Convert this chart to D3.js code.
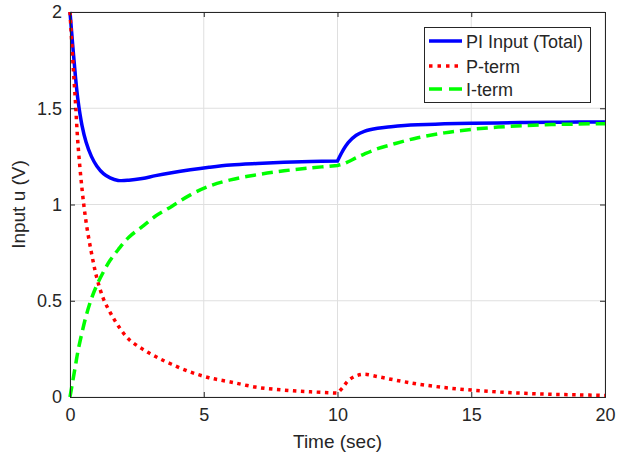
<!DOCTYPE html>
<html>
<head>
<meta charset="utf-8">
<script src="https://cdn.jsdelivr.net/npm/d3@7"></script>
<style>
  html, body { margin: 0; padding: 0; background: #fff; }
  text { font-family: "Liberation Sans", Arial, Helvetica, sans-serif; fill: #262626; }
</style>
</head>
<body>
<svg id="chart" width="617" height="461"></svg>
<script>
// ---- data ----
const time   = [0, 0.1, 0.2, 0.3, 0.45, 0.6, 0.8, 1.0, 1.25, 1.5, 1.8, 2.2, 2.7, 3.2, 3.8, 4.5, 5.2, 6, 7, 8, 9, 10,
                10.2, 10.4, 10.7, 11, 11.5, 12, 12.5, 13, 14, 15, 16, 17, 18, 19, 20];
const total  = [2.0, 1.83, 1.67, 1.54, 1.41, 1.325, 1.25, 1.2, 1.16, 1.138, 1.125, 1.126, 1.135, 1.15, 1.165, 1.18, 1.193, 1.205, 1.213, 1.219, 1.223, 1.226,
                1.28, 1.322, 1.36, 1.38, 1.396, 1.404, 1.41, 1.414, 1.419, 1.422, 1.424, 1.426, 1.427, 1.428, 1.429];
const pTerm  = [2.0, 1.76, 1.54, 1.31, 1.08, 0.91, 0.75, 0.62, 0.51, 0.44, 0.37, 0.30, 0.25, 0.21, 0.17, 0.13, 0.10, 0.078, 0.05, 0.036, 0.027, 0.02,
                0.05, 0.085, 0.11, 0.118, 0.106, 0.092, 0.079, 0.067, 0.049, 0.036, 0.026, 0.019, 0.014, 0.011, 0.008];
const iTerm  = [0, 0.08, 0.16, 0.24, 0.335, 0.42, 0.51, 0.58, 0.65, 0.71, 0.765, 0.83, 0.885, 0.94, 0.99, 1.05, 1.095, 1.128, 1.155, 1.175, 1.19, 1.203,
                1.21, 1.222, 1.243, 1.262, 1.29, 1.31, 1.33, 1.347, 1.372, 1.39, 1.402, 1.41, 1.415, 1.418, 1.42];
const xTicks = [0, 5, 10, 15, 20];
const yTicks = [0, 0.5, 1, 1.5, 2];
const seriesNames = ["PI Input (Total)", "P-term", "I-term"];
const stepTime = 10; // disturbance instant, curves have a corner here

// ---- layout ----
const svg = d3.select("#chart");
const L = 70, R = 605, T = 12, B = 397;
const x = d3.scaleLinear().domain([0, 20]).range([L, R]);
const y = d3.scaleLinear().domain([0, 2]).range([B, T]);
const axisColor = "#262626";
const fs = 18;

// grid
const g = svg.append("g");
g.selectAll("line.gx").data(xTicks).join("line")
  .attr("x1", d => x(d)).attr("x2", d => x(d)).attr("y1", T).attr("y2", B)
  .attr("stroke", "#dfdfdf").attr("stroke-width", 1);
g.selectAll("line.gy").data(yTicks).join("line")
  .attr("y1", d => y(d)).attr("y2", d => y(d)).attr("x1", L).attr("x2", R)
  .attr("stroke", "#dfdfdf").attr("stroke-width", 1);

// series
const seriesData = [total, pTerm, iTerm];
const styles = [
  { color: "#0000ff", dash: null, width: 3.5 },
  { color: "#ff0000", dash: "3.5,4.5", width: 3.5 },
  { color: "#00ff00", dash: "11,6", width: 3.5 }
];
const lineGen = d3.line().curve(d3.curveCatmullRom.alpha(0.5));
seriesData.forEach((vals, k) => {
  const pts = time.map((t, i) => ({ t, p: [x(t), y(vals[i])] }));
  const seg1 = pts.filter(d => d.t <= stepTime).map(d => d.p);
  const seg2 = pts.filter(d => d.t >= stepTime).map(d => d.p);
  const d1 = lineGen(seg1);
  const d2 = lineGen(seg2).replace(/^M[^CL]*/, "");
  svg.append("path").attr("d", d1 + d2).attr("fill", "none")
    .attr("stroke", styles[k].color).attr("stroke-width", styles[k].width)
    .attr("stroke-dasharray", styles[k].dash);
});

// axes (box)
const xAxisB = d3.axisBottom(x).tickValues(xTicks).tickSize(-5).tickPadding(11).tickFormat(d3.format("d"));
const xAxisT = d3.axisTop(x).tickValues(xTicks).tickSize(-5).tickFormat("");
const yAxisL = d3.axisLeft(y).tickValues(yTicks).tickSize(-5).tickPadding(8).tickFormat(d => String(d));
const yAxisR = d3.axisRight(y).tickValues(yTicks).tickSize(-5).tickFormat("");
function styleAxis(sel) {
  sel.select(".domain").attr("stroke", axisColor).attr("stroke-width", 1);
  sel.selectAll(".tick line").attr("stroke", axisColor);
  sel.selectAll(".tick text").attr("font-size", fs).attr("fill", axisColor)
     .style("font-family", '"Liberation Sans", Arial, sans-serif');
}
svg.append("g").attr("transform", `translate(0,${B})`).call(xAxisB).call(styleAxis);
svg.append("g").attr("transform", `translate(0,${T})`).call(xAxisT).call(styleAxis);
svg.append("g").attr("transform", `translate(${L},0)`).call(yAxisL).call(styleAxis);
svg.append("g").attr("transform", `translate(${R},0)`).call(yAxisR).call(styleAxis);

// axis labels
svg.append("text").attr("x", (L + R) / 2).attr("y", 448).attr("text-anchor", "middle")
  .attr("font-size", 19).text("Time (sec)");
svg.append("text").attr("transform", `translate(25,${(T + B) / 2}) rotate(-90)`).attr("text-anchor", "middle")
  .attr("font-size", 19).text("Input u (V)");

// legend
const lg = svg.append("g");
lg.append("rect").attr("x", 424.5).attr("y", 27.5).attr("width", 166).attr("height", 75)
  .attr("fill", "#fff").attr("stroke", axisColor).attr("stroke-width", 1);
const rowY = [41, 66, 89];
seriesNames.forEach((name, k) => {
  lg.append("line").attr("x1", 429).attr("x2", 462).attr("y1", rowY[k]).attr("y2", rowY[k])
    .attr("stroke", styles[k].color).attr("stroke-width", styles[k].width)
    .attr("stroke-dasharray", k === 1 ? "3.5,5" : (k === 2 ? "13,7" : null));
  lg.append("text").attr("x", 466).attr("y", rowY[k] + 6.5).attr("font-size", 18).text(name);
});
</script>
</body>
</html>
